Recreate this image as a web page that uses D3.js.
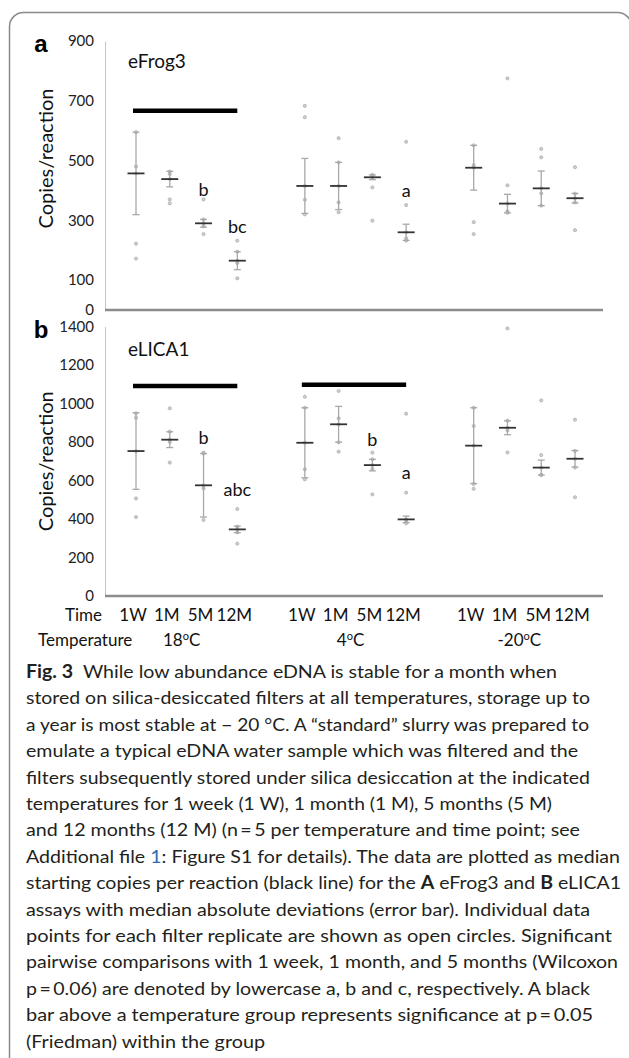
<!DOCTYPE html>
<html lang="en">
<head>
<meta charset="UTF-8">
<title>Fig. 3</title>
<style>
  body { margin: 0; background: #fff; }
  svg { display: block; font-family: Lato, "Open Sans", sans-serif; }
</style>
</head>
<body>
<div id="chart"></div>
<script src="https://d3js.org/d3.v7.min.js"></script>
<script type="text/javascript">
// categories
const times = ["1W", "1M", "5M", "12M"];
const temps = ["18", "4", "-20"];

// panel a: eFrog3 (median, median absolute deviation, replicates)
const frogMedian = [457, 438, 290, 165, 415, 415, 444, 260, 476, 356, 407, 374];
const frogMad = [138, 26, 13, 30, 92, 79, 8, 27, 75, 31, 58, 16];
const frogPoints = [
    [595, 480, 457, 222, 172], [463, 455, 438, 370, 357], [370, 303, 290, 280, 254], [232, 195, 165, 157, 106],
    [683, 645, 415, 369, 320], [575, 494, 415, 360, 327], [452, 448, 444, 410, 299], [563, 351, 260, 240, 232],
    [551, 485, 476, 294, 254], [775, 417, 356, 330, 325], [539, 511, 407, 390, 349], [478, 389, 374, 360, 267]
];
const frogTicks = [0, 100, 300, 500, 700, 900];
const frogBarTemps = ["18"];
const frogBarValues = [667];
const frogLetters = ["b", "bc", "a"];
const frogLetterCols = [2, 3, 7];
const frogLetterValues = [401, 279, 398];

// panel b: eLICA1
const licaMedian = [753, 812, 575, 346, 796, 892, 680, 398, 781, 874, 667, 713];
const licaMad = [199, 41, 165, 17, 182, 93, 30, 17, 197, 36, 39, 43];
const licaPoints = [
    [949, 926, 753, 507, 410], [975, 854, 812, 800, 693], [745, 740, 575, 559, 395], [452, 360, 346, 330, 272],
    [1035, 978, 796, 658, 606], [1065, 923, 892, 798, 750], [745, 710, 680, 660, 528], [947, 537, 398, 385, 378],
    [978, 883, 781, 582, 557], [1390, 911, 874, 860, 746], [1016, 732, 667, 630, 628], [916, 753, 713, 667, 513]
];
const licaTicks = [0, 200, 400, 600, 800, 1000, 1200, 1400];
const licaBarTemps = ["18", "4"];
const licaBarValues = [1091, 1098];
const licaLetters = ["b", "abc", "b", "a"];
const licaLetterCols = [2, 3, 6, 7];
const licaLetterValues = [822, 551, 810, 639];

// caption lines: [text, style] segments
const captionLines = [
    [["Fig. 3", "b"], ["  While low abundance eDNA is stable for a month when"]],
    [["stored on silica-desiccated filters at all temperatures, storage up to"]],
    [["a year is most stable at \u2212 20 \u00b0C. A \u201cstandard\u201d slurry was prepared to"]],
    [["emulate a typical eDNA water sample which was filtered and the"]],
    [["filters subsequently stored under silica desiccation at the indicated"]],
    [["temperatures for 1 week (1 W), 1 month (1 M), 5 months (5 M)"]],
    [["and 12 months (12 M) (n\u2009=\u20095 per temperature and time point; see"]],
    [["Additional file "], ["1", "link"], [": Figure S1 for details). The data are plotted as median"]],
    [["starting copies per reaction (black line) for the "], ["A", "b"], [" eFrog3 and "], ["B", "b"], [" eLICA1"]],
    [["assays with median absolute deviations (error bar). Individual data"]],
    [["points for each filter replicate are shown as open circles. Significant"]],
    [["pairwise comparisons with 1 week, 1 month, and 5 months (Wilcoxon"]],
    [["p\u2009=\u20090.06) are denoted by lowercase a, b and c, respectively. A black"]],
    [["bar above a temperature group represents significance at p\u2009=\u20090.05"]],
    [["(Friedman) within the group"]]
];
const captionWidths = [531, 564, 563, 552, 564, 526, 554, 594, 595, 564, 586, 592, 564, 567, 239];

const svg = d3.select("#chart").append("svg")
    .attr("width", 629)
    .attr("height", 1058);

// outer frame (right and bottom edges run off the page)
svg.append("rect")
    .attr("x", 9.5).attr("y", 12.5)
    .attr("width", 622).attr("height", 1100)
    .attr("rx", 14)
    .attr("fill", "none")
    .attr("stroke", "#8a8a8a")
    .attr("stroke-width", 1.5);

const columns = temps.flatMap(t => times.map(m => t + "|" + m));
const slots = temps.flatMap((t, i) => (i ? ["gap" + i] : []).concat(times.map(m => t + "|" + m)));

const x = d3.scalePoint().domain(slots).range([136, 575]);
const axisLeftX = 105, axisRightX = 603;

function drawPanel(p) {
    const g = svg.append("g");
    const y = p.y;

    // y axis
    const ya = g.append("g")
        .attr("transform", `translate(${axisLeftX},0)`)
        .call(d3.axisLeft(y).tickValues(p.ticks).tickFormat(d3.format("d")).tickSize(0).tickPadding(11));
    ya.select(".domain").attr("stroke", "#c4c4c4").attr("stroke-width", 1);
    ya.selectAll("text").attr("font-family", "Lato").attr("font-size", 15).attr("fill", "#222");

    // x axis line
    g.append("line")
        .attr("x1", axisLeftX).attr("x2", axisRightX)
        .attr("y1", y(0)).attr("y2", y(0))
        .attr("stroke", "#8c8c8c").attr("stroke-width", 2.5);

    // significance bars
    g.selectAll(".sig").data(p.barTemps).enter().append("line")
        .attr("class", "sig")
        .attr("x1", d => x(d + "|1W") - 3)
        .attr("x2", d => x(d + "|12M"))
        .attr("y1", (d, i) => y(p.barValues[i]))
        .attr("y2", (d, i) => y(p.barValues[i]))
        .attr("stroke", "#000").attr("stroke-width", 4.5);

    // replicate points
    p.points.forEach(function(vals, i) {
        g.selectAll(".pt" + i).data(vals).enter().append("circle")
            .attr("cx", x(columns[i]))
            .attr("cy", d => y(d))
            .attr("r", 1.6)
            .attr("fill", "#cfcfcf")
            .attr("stroke", "#a0a0a0")
            .attr("stroke-width", 0.6);
    });

    // error bars (median +/- MAD)
    const eb = g.selectAll(".eb").data(p.medians).enter().append("g").attr("class", "eb");
    eb.append("line")
        .attr("x1", (d, i) => x(columns[i])).attr("x2", (d, i) => x(columns[i]))
        .attr("y1", (d, i) => y(d + p.mads[i])).attr("y2", (d, i) => y(d - p.mads[i]))
        .attr("stroke", "#a8a8a8").attr("stroke-width", 1.3);
    [1, -1].forEach(function(sign) {
        eb.append("line")
            .attr("x1", (d, i) => x(columns[i]) - 3.5).attr("x2", (d, i) => x(columns[i]) + 3.5)
            .attr("y1", (d, i) => y(d + sign * p.mads[i])).attr("y2", (d, i) => y(d + sign * p.mads[i]))
            .attr("stroke", "#a8a8a8").attr("stroke-width", 1.3);
    });
    eb.append("line")
        .attr("x1", (d, i) => x(columns[i]) - 8.5).attr("x2", (d, i) => x(columns[i]) + 8.5)
        .attr("y1", d => y(d)).attr("y2", d => y(d))
        .attr("stroke", "#333").attr("stroke-width", 1.8);

    // significance letters
    g.selectAll(".letter").data(p.letters).enter().append("text")
        .attr("x", (d, i) => x(columns[p.letterCols[i]]))
        .attr("y", (d, i) => y(p.letterValues[i]))
        .attr("dy", "0.35em")
        .attr("text-anchor", "middle")
        .attr("font-size", 18)
        .attr("fill", "#111")
        .text(d => d);

    // assay title
    g.append("text")
        .attr("x", 128).attr("y", p.titleY)
        .attr("font-size", 19).attr("fill", "#111")
        .text(p.title);

    // y label
    const mid = (y.range()[0] + y.range()[1]) / 2 + p.labelShift;
    g.append("text")
        .attr("transform", `translate(46,${mid}) rotate(-90)`)
        .attr("text-anchor", "middle")
        .attr("dy", "0.35em")
        .attr("font-size", 20).attr("fill", "#111")
        .text("Copies/reaction");

    // panel tag
    g.append("text")
        .attr("x", 41).attr("y", p.tagY)
        .attr("text-anchor", "middle")
        .attr("font-family", "'Liberation Sans', Arial, sans-serif")
        .attr("font-weight", "bold")
        .attr("font-size", 24).attr("fill", "#000")
        .text(p.tag);
}

drawPanel({
    y: d3.scaleLinear().domain([0, 900]).range([310, 41]),
    ticks: frogTicks, medians: frogMedian, mads: frogMad, points: frogPoints,
    barTemps: frogBarTemps, barValues: frogBarValues,
    letters: frogLetters, letterCols: frogLetterCols, letterValues: frogLetterValues,
    title: "eFrog3", titleY: 68, tag: "a", tagY: 52, labelShift: -17
});

drawPanel({
    y: d3.scaleLinear().domain([0, 1400]).range([596, 326.5]),
    ticks: licaTicks, medians: licaMedian, mads: licaMad, points: licaPoints,
    barTemps: licaBarTemps, barValues: licaBarValues,
    letters: licaLetters, letterCols: licaLetterCols, letterValues: licaLetterValues,
    title: "eLICA1", titleY: 356, tag: "b", tagY: 338, labelShift: 0
});

// category rows under panel b
const rowTime = svg.append("g").attr("font-size", 17).attr("fill", "#111");
rowTime.append("text").attr("x", 102).attr("y", 621).attr("text-anchor", "end").text("Time");
rowTime.selectAll(".tl").data(columns).enter().append("text")
    .attr("x", d => x(d) - 3)
    .attr("y", 621)
    .attr("text-anchor", "middle")
    .text(d => d.split("|")[1]);

const rowTemp = svg.append("g").attr("font-size", 17).attr("fill", "#111");
rowTemp.append("text").attr("x", 38).attr("y", 646).text("Temperature");
const tempLabels = rowTemp.selectAll(".tp").data(temps).enter().append("text")
    .attr("x", d => (x(d + "|1W") + x(d + "|12M")) / 2 - 5)
    .attr("y", 646)
    .attr("text-anchor", "middle");
tempLabels.append("tspan").text(d => d);
tempLabels.append("tspan").attr("font-size", 11).attr("dy", -6).text("o");
tempLabels.append("tspan").attr("dy", 6).text("C");

// caption
const cap = svg.append("g").attr("font-family", "Lato, sans-serif").attr("font-size", 18).attr("fill", "#231f20");
captionLines.forEach(function(segs, i) {
    const t = cap.append("text")
        .attr("x", 26)
        .attr("y", 678 + i * 26.4)
        .attr("textLength", captionWidths[i])
        .attr("lengthAdjust", "spacingAndGlyphs")
        .attr("xml:space", "preserve");
    segs.forEach(function(s) {
        const ts = t.append("tspan").text(s[0]);
        if (s[1] === "b") ts.attr("font-weight", "bold");
        if (s[1] === "link") ts.attr("fill", "#2e6db4");
    });
});
</script>
</body>
</html>
